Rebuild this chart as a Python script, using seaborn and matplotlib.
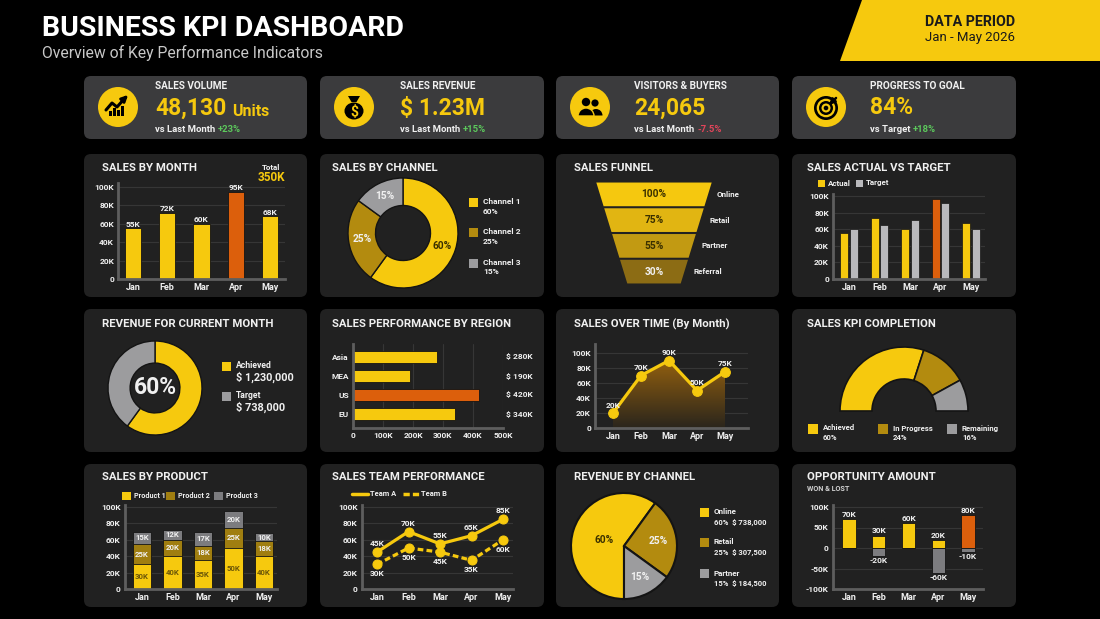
import numpy as np
import pandas as pd
import matplotlib
matplotlib.use("Agg")
import matplotlib.pyplot as plt
import seaborn as sns
from matplotlib.patches import FancyBboxPatch, Polygon, Circle, Rectangle, Wedge, Ellipse
from matplotlib.colors import LinearSegmentedColormap

# ------------------------------------------------------------------ data
months = ["Jan", "Feb", "Mar", "Apr", "May"]

kpi_titles = ["SALES VOLUME", "SALES REVENUE", "VISITORS & BUYERS", "PROGRESS TO GOAL"]
kpi_values = ["48,130", "$ 1.23M", "24,065", "84%"]
kpi_units = ["Units", "", "", ""]
kpi_compare = ["vs Last Month", "vs Last Month", "vs Last Month", "vs Target"]
kpi_delta = ["+23%", "+15%", "-7.5%", "+18%"]

sales_by_month = [55, 72, 60, 95, 68]

channel_names = ["Channel 1", "Channel 2", "Channel 3"]
channel_share = [60, 25, 15]

funnel_stages = ["Online", "Retail", "Partner", "Referral"]
funnel_pct = [100, 75, 55, 30]

actual_sales = [55, 74, 60, 96, 68]
target_sales = [60, 65, 71, 91, 60]

revenue_labels = ["Achieved", "Target"]
revenue_parts = [60, 40]
revenue_amounts = ["$ 1,230,000", "$ 738,000"]

regions = ["Asia", "MEA", "US", "EU"]
region_sales = [280, 190, 420, 340]

sales_over_time = [20, 70, 90, 50, 75]

kpi_comp_labels = ["Achieved", "In Progress", "Remaining"]
kpi_comp_share = [60, 24, 16]

product_names = ["Product 1", "Product 2", "Product 3"]
product1 = [30, 40, 35, 50, 40]
product2 = [25, 20, 18, 25, 18]
product3 = [15, 12, 17, 20, 10]

team_names = ["Team A", "Team B"]
team_a = [45, 70, 55, 65, 85]
team_b = [30, 50, 45, 35, 60]

rev_channels = ["Online", "Retail", "Partner"]
rev_share = [60, 25, 15]
rev_amounts = ["$ 738,000", "$ 307,500", "$ 184,500"]

opp_won = [70, 30, 60, 20, 80]
opp_lost = [0, -20, 0, -60, -10]

# ------------------------------------------------------------------ style
YEL = "#F6C90E"
GOLD = "#B38B0F"
GOLD2 = "#A07E10"
GRAY = "#9C9C9E"
LGRAY = "#B9B9BC"
DGRAY = "#7C7C7F"
ORANGE = "#DC5F0C"
PANEL = "#212121"
CARD = "#3B3B3D"
GRID = "#363636"
SPINE = "#5E5E5E"
WHITE = "#F0F0F0"
DARKTXT = "#3A3000"
EDGE = "#141414"
GREEN = "#5CC85C"
RED = "#E0455A"

sns.set_theme(style="dark", rc={"axes.facecolor": "none", "figure.facecolor": "black",
                                "text.color": WHITE, "xtick.color": WHITE, "ytick.color": WHITE,
                                "axes.edgecolor": SPINE})
plt.rcParams["font.family"] = ["Roboto", "DejaVu Sans"]

W, H = 1100, 619
fig = plt.figure(figsize=(W / 100, H / 100), dpi=100, facecolor="black")
bg = fig.add_axes([0, 0, 1, 1])
bg.set_xlim(0, W)
bg.set_ylim(H, 0)
bg.axis("off")


def px_rect(x0, y0, x1, y1):
    return [x0 / W, 1 - y1 / H, (x1 - x0) / W, (y1 - y0) / H]


def map_axes(xlim, ylim, xmap, ymap):
    d0, p0, d1, p1 = xmap
    sx = (p1 - p0) / (d1 - d0)
    xl = p0 + (xlim[0] - d0) * sx
    xr = p0 + (xlim[1] - d0) * sx
    e0, q0, e1, q1 = ymap
    sy = (q1 - q0) / (e1 - e0)
    yb = q0 + (ylim[0] - e0) * sy
    yt = q0 + (ylim[1] - e0) * sy
    ax = fig.add_axes(px_rect(xl, yt, xr, yb))
    ax.set_facecolor("none")
    return ax


def pie_axes(cx, cy, r):
    ax = fig.add_axes(px_rect(cx - r, cy - r, cx + r, cy + r))
    ax.set_facecolor("none")
    return ax


def finish_pie(ax):
    ax.set_xlim(-1, 1)
    ax.set_ylim(-1, 1)
    ax.set_aspect("equal")
    ax.axis("off")


def style(ax, grid="y"):
    sns.despine(ax=ax)
    for s in ("left", "bottom"):
        ax.spines[s].set_color(SPINE)
        ax.spines[s].set_linewidth(2.0)
    ax.tick_params(length=0, pad=3)
    ax.grid(False)
    if grid:
        ax.grid(axis=grid, color=GRID, linewidth=0.8)
    ax.set_axisbelow(True)
    ax.set_xlabel("")
    ax.set_ylabel("")


def txt(x, y, s, size=7, color=WHITE, weight="bold", ha="left", va="center", **kw):
    return bg.text(x, y, s, fontsize=size, color=color, fontweight=weight, ha=ha, va=va, **kw)


def rbox(x0, y0, x1, y1, color, r=7):
    bg.add_patch(FancyBboxPatch((x0, y0), x1 - x0, y1 - y0,
                                boxstyle=f"round,pad=0,rounding_size={r}", fc=color, ec="none"))


def square(x, y, color, s=9):
    bg.add_patch(Rectangle((x - s / 2, y - s / 2), s, s, fc=color, ec="none"))


def klabels(vals):
    return ["0" if v == 0 else f"{v}K" for v in vals]


TICK = dict(fontsize=6.0, fontweight="bold", color=WHITE)
MON = dict(fontsize=6.5, fontweight="bold", color=WHITE)
LAB = 6.0

# ------------------------------------------------------------------ header
txt(42, 29, "BUSINESS KPI DASHBOARD", size=20.5, color="white")
txt(42, 53, "Overview of Key Performance Indicators", size=11.3, color="#C8C8C8", weight="normal")
bg.add_patch(Polygon([(862, 0), (1100, 0), (1100, 61), (840, 61)], closed=True, fc=YEL, ec="none"))
txt(970, 22, "DATA PERIOD", size=10.3, color="#1A1A1A", ha="center")
txt(970, 38, "Jan - May 2026", size=9.5, color="#1A1A1A", ha="center", weight="normal")

cols = [(84, 307), (320, 544), (556, 779), (792, 1016)]
rows = [(154, 297), (309, 452), (464, 607)]
for (x0, x1) in cols:
    rbox(x0, 76, x1, 139, CARD)
    for (y0, y1) in rows:
        rbox(x0, y0, x1, y1, PANEL)

titles = [["SALES BY MONTH", "SALES BY CHANNEL", "SALES FUNNEL", "SALES ACTUAL VS TARGET"],
          ["REVENUE FOR CURRENT MONTH", "SALES PERFORMANCE BY REGION", "SALES OVER TIME (By Month)", "SALES KPI COMPLETION"],
          ["SALES BY PRODUCT", "SALES TEAM PERFORMANCE", "REVENUE BY CHANNEL", "OPPORTUNITY AMOUNT"]]
title_x = [102, 332, 574, 807]
title_y = [168, 324, 477]
for r in range(3):
    for c in range(4):
        txt(title_x[c], title_y[r], titles[r][c], size=8.2)
txt(807, 489, "WON & LOST", size=5.2, color="#D0D0D0")

# ------------------------------------------------------------------ KPI cards
icon_cx = [118, 354, 590, 826]
text_x = [155, 400, 634, 870]
for i in range(4):
    cx, cy = icon_cx[i], 107
    bg.add_patch(Circle((cx, cy), 20, fc=YEL, ec="none"))
    txt(text_x[i], 86, kpi_titles[i], size=7.2)
    v = txt(text_x[i], 108, kpi_values[i], size=16.5, color=YEL)
    if kpi_units[i]:
        bg.annotate(kpi_units[i], xy=(1, 0), xycoords=v, xytext=(4, 0), textcoords="offset points",
                    va="bottom", ha="left", fontsize=11.5, color=YEL, fontweight="bold")
    c = txt(text_x[i], 129, kpi_compare[i], size=6.8)
    bg.annotate(kpi_delta[i], xy=(1, 0.5), xycoords=c, xytext=(2, 0), textcoords="offset points",
                va="center", ha="left", fontsize=6.8, fontweight="bold",
                color=GREEN if kpi_delta[i].startswith("+") else RED)

# icon 1: growth chart
cx = icon_cx[0]
for dx, h in [(-9, 5), (-5, 8), (-1, 6), (3, 10)]:
    bg.add_patch(Rectangle((cx + dx, 107 + 9 - h), 3, h, fc="black", ec="none"))
bg.plot([cx - 12, cx - 6, cx - 1, cx + 7], [110, 103, 107, 98], color="black", lw=2.2, solid_capstyle="round")
bg.annotate("", xy=(cx + 12, 93), xytext=(cx + 5, 100),
            arrowprops=dict(arrowstyle="-|>", color="black", lw=2, mutation_scale=9))
# icon 2: money bag
cx = icon_cx[1]
bg.add_patch(Ellipse((cx, 111), 19, 17, fc="black", ec="none"))
bg.add_patch(Polygon([(cx - 6, 96), (cx + 6, 96), (cx + 2.5, 102), (cx - 2.5, 102)], fc="black", ec="none"))
txt(cx, 111.5, "$", size=10, color=YEL, ha="center")
# icon 3: people
cx = icon_cx[2]
bg.add_patch(Circle((cx - 4, 102), 4.2, fc="black", ec="none"))
bg.add_patch(Circle((cx + 5, 103), 3.6, fc="black", ec="none"))
bg.add_patch(Wedge((cx + 6, 115.5), 6.5, 180, 360, fc="black", ec="none"))
bg.add_patch(Wedge((cx - 4, 116), 8, 180, 360, fc="black", ec=YEL, lw=1))
# icon 4: target
cx = icon_cx[3]
for rr, col in [(12, "black"), (9.3, YEL), (7, "black"), (4.5, YEL), (2.3, "black")]:
    bg.add_patch(Circle((cx, 108), rr, fc=col, ec="none"))
bg.annotate("", xy=(cx + 1, 107), xytext=(cx + 12, 96),
            arrowprops=dict(arrowstyle="-|>", color="black", lw=1.8, mutation_scale=8))

# ------------------------------------------------------------------ Sales by month
ax = map_axes((-0.43, 4.43), (0, 104), (0, 133, 4, 270), (0, 279, 100, 187))
df = pd.DataFrame({"month": months, "sales": sales_by_month})
peak = int(np.argmax(sales_by_month))
pal = [ORANGE if i == peak else YEL for i in range(len(months))]
sns.barplot(data=df, x="month", y="sales", hue="month", palette=pal, legend=False, width=0.47,
            saturation=1, edgecolor=EDGE, linewidth=0.6, ax=ax)
style(ax)
ax.set_xlim(-0.43, 4.43)
ax.set_ylim(0, 104)
yt = [0, 20, 40, 60, 80, 100]
ax.set_yticks(yt, klabels(yt), **TICK)
ax.set_xticks(range(len(months)), months, **MON)
for i, v in enumerate(sales_by_month):
    ax.text(i, v + 0.8, f"{v}K", ha="center", va="bottom", fontsize=LAB, fontweight="bold", color=WHITE)
txt(271, 167.5, "Total", size=5.8, ha="center")
txt(271, 177.5, f"{sum(sales_by_month)}K", size=8.5, color=YEL, ha="center")

# ------------------------------------------------------------------ Sales by channel (donut)
ax = pie_axes(403, 233, 55)
wedges, _, autot = ax.pie(channel_share, colors=[YEL, GOLD, GRAY], startangle=90, counterclock=False,
                          wedgeprops=dict(width=0.5, edgecolor=EDGE, linewidth=1),
                          autopct=lambda p: f"{p:.0f}%", pctdistance=0.75,
                          textprops=dict(fontsize=7.3, fontweight="bold", color=WHITE))
autot[0].set_color(DARKTXT)
finish_pie(ax)
for i, (name, share, col) in enumerate(zip(channel_names, channel_share, [YEL, GOLD, GRAY])):
    y = 201.5 + 30.5 * i
    square(473, y + 0.5, col)
    txt(483, y, name, size=LAB)
    txt(483, y + 9.5, f"{share}%", size=LAB)

# ------------------------------------------------------------------ Sales funnel
ax = map_axes((-64, 66), (4.136, -0.058), (0, 654, 1, 655), (0, 181.5, 1, 207.25))
ax.axis("off")
funnel_cols = ["#F5C80F", "#E1B512", "#C29A12", "#8C6C14"]
hw = lambda yy: 58 - 7.9 * yy
for i, (name, pct) in enumerate(zip(funnel_stages, funnel_pct)):
    t, b = i + 0.04, i + 0.96
    ax.fill([-hw(t), hw(t), hw(b), -hw(b)], [t, t, b, b], color=funnel_cols[i], lw=0)
    ax.text(0, i + 0.5, f"{pct}%", ha="center", va="center", fontsize=7.3, fontweight="bold",
            color=WHITE if i == len(funnel_pct) - 1 else DARKTXT)
    ax.text(hw(i + 0.5) + 9, i + 0.5, name, ha="left", va="center", fontsize=5.8, fontweight="bold", color=WHITE)
ax.set_xlim(-64, 66)
ax.set_ylim(4.136, -0.058)

# ------------------------------------------------------------------ Sales actual vs target
ax = map_axes((-0.52, 4.46), (0, 102), (0, 849, 4, 971), (0, 279, 100, 196))
df2 = pd.DataFrame({"month": months * 2,
                    "series": ["Actual"] * len(months) + ["Target"] * len(months),
                    "value": actual_sales + target_sales})
sns.barplot(data=df2, x="month", y="value", hue="series", palette=[YEL, LGRAY], width=0.62, gap=0.18,
            saturation=1, legend=False, edgecolor=EDGE, linewidth=0.5, ax=ax)
ax.containers[0][int(np.argmax(actual_sales))].set_facecolor(ORANGE)
style(ax)
ax.set_xlim(-0.52, 4.46)
ax.set_ylim(0, 102)
ax.set_yticks(yt, klabels(yt), **TICK)
ax.set_xticks(range(len(months)), months, **MON)
square(821, 183, YEL, 7)
txt(828, 183, "Actual", size=5.8)
square(859, 183, LGRAY, 7)
txt(866, 183, "Target", size=5.8)

# ------------------------------------------------------------------ Revenue for current month
ax = pie_axes(155, 388, 47)
ax.pie(revenue_parts, colors=[YEL, GRAY], startangle=90, counterclock=False,
       wedgeprops=dict(width=0.47, edgecolor=EDGE, linewidth=1))
ax.text(0, 0, f"{revenue_parts[0]}%", ha="center", va="center", fontsize=16.5, fontweight="bold", color=WHITE)
finish_pie(ax)
for i, (lab, amt, col) in enumerate(zip(revenue_labels, revenue_amounts, [YEL, GRAY])):
    y = 366 + 30 * i
    square(226.5, y, col)
    txt(236, y, lab, size=6.2)
    txt(236, y + 11.5, amt, size=7.8)

# ------------------------------------------------------------------ Sales performance by region
ax = map_axes((0, 500), (3.74, -0.68), (0, 353, 500, 503), (0, 357, 3, 414))
df3 = pd.DataFrame({"region": regions, "sales": region_sales})
peak = int(np.argmax(region_sales))
pal = [ORANGE if i == peak else YEL for i in range(len(regions))]
sns.barplot(data=df3, x="sales", y="region", hue="region", palette=pal, legend=False, orient="h",
            width=0.63, saturation=1, edgecolor=EDGE, linewidth=0.6, ax=ax)
style(ax, grid="x")
ax.set_xlim(0, 500)
ax.set_ylim(3.74, -0.68)
xt = [0, 100, 200, 300, 400, 500]
ax.set_xticks(xt, klabels(xt), **TICK)
ax.set_yticks(range(len(regions)), regions, **TICK)
for i, v in enumerate(region_sales):
    ax.text(555, i, f"$ {v}K", ha="center", va="center", fontsize=LAB, fontweight="bold", color=WHITE)

# ------------------------------------------------------------------ Sales over time
ax = map_axes((-0.64, 4.82), (0, 112), (0, 613, 4, 725), (0, 428, 100, 353))
xs = np.arange(len(months))
ys = np.array(sales_over_time)
verts = np.vstack([np.column_stack([xs, ys]), [[xs[-1], 0], [xs[0], 0]]])
clip = Polygon(verts, closed=True, transform=ax.transData, fc="none", ec="none")
ax.add_patch(clip)
grad = np.linspace(0, 1, 256).reshape(-1, 1)
cmap = LinearSegmentedColormap.from_list("area", ["#2A251C", "#93600F"])
im = ax.imshow(grad, extent=[xs[0], xs[-1], 0, ys.max()], origin="lower", cmap=cmap, aspect="auto", zorder=1)
im.set_clip_path(clip)
sns.lineplot(x=xs, y=ys, color=YEL, linewidth=2.3, marker="o", markersize=7, markeredgecolor=YEL,
             ax=ax, zorder=3)
style(ax)
ax.set_xlim(-0.64, 4.82)
ax.set_ylim(0, 112)
ax.set_yticks(yt, klabels(yt), **TICK)
ax.set_xticks(range(len(months)), months, **MON)
for i, v in enumerate(sales_over_time):
    ax.text(i, v + 6, f"{v}K", ha="center", va="bottom", fontsize=LAB, fontweight="bold", color=WHITE)

# ------------------------------------------------------------------ Sales KPI completion
ax = pie_axes(904, 411, 64)
wedges, _ = ax.pie(kpi_comp_share + [sum(kpi_comp_share)], colors=[YEL, GOLD, GRAY, "none"],
                   startangle=180, counterclock=False,
                   wedgeprops=dict(width=0.5, edgecolor=EDGE, linewidth=1.2))
wedges[-1].set_visible(False)
finish_pie(ax)
for i, (lab, share, col) in enumerate(zip(kpi_comp_labels, kpi_comp_share, [YEL, GOLD, GRAY])):
    x = [813, 883, 952][i]
    square(x, 429, col, 10)
    txt(x + 10, 428, lab, size=5.6)
    txt(x + 10, 438, f"{share}%", size=5.6)

# ------------------------------------------------------------------ Sales by product (stacked)
ax = map_axes((-0.56, 4.43), (0, 102), (0, 142, 4, 264), (0, 589, 100, 507))
layers = [product1, product2, product3]
layer_cols = [YEL, GOLD2, DGRAY]
cum = np.cumsum(layers, axis=0)
for k in reversed(range(len(layers))):
    sns.barplot(x=months, y=cum[k], color=layer_cols[k], width=0.6, saturation=1,
                edgecolor=EDGE, linewidth=0.6, ax=ax)
style(ax)
ax.set_xlim(-0.56, 4.43)
ax.set_ylim(0, 102)
ax.set_yticks(yt, klabels(yt), **TICK)
ax.set_xticks(range(len(months)), months, **MON)
for k in range(len(layers)):
    for i in range(len(months)):
        mid = cum[k][i] - layers[k][i] / 2
        ax.text(i, mid, f"{layers[k][i]}K", ha="center", va="center", fontsize=5.6, fontweight="bold",
                color="#6B5608" if k == 0 else WHITE)
for name, col, sx in zip(product_names, layer_cols, [126.5, 170.5, 218.5]):
    square(sx, 496, col, 8.5)
    txt(sx + 8, 496, name, size=5.2)

# ------------------------------------------------------------------ Sales team performance
ax = map_axes((-0.48, 4.32), (0, 102), (0, 377, 4, 503), (0, 589, 100, 507))
sns.lineplot(x=xs, y=team_a, color=YEL, linewidth=2.3, marker="o", markersize=6.5, markeredgecolor=YEL, ax=ax)
sns.lineplot(x=xs, y=team_b, color=YEL, linewidth=2.3, linestyle=(0, (1.8, 1.0)), marker="o", markersize=6.5,
             markeredgecolor=YEL, ax=ax)
style(ax)
ax.set_xlim(-0.48, 4.32)
ax.set_ylim(0, 102)
ax.set_yticks(yt, klabels(yt), **TICK)
ax.set_xticks(range(len(months)), months, **MON)
for i, v in enumerate(team_a):
    ax.text(i, v + 6, f"{v}K", ha="center", va="bottom", fontsize=LAB, fontweight="bold", color=WHITE)
for i, v in enumerate(team_b):
    ax.text(i, v - 7, f"{v}K", ha="center", va="top", fontsize=LAB, fontweight="bold", color=WHITE)
bg.plot([352, 368], [494, 494], color=YEL, lw=2.5)
txt(370, 494, team_names[0], size=5.4)
bg.plot([403, 420], [494, 494], color=YEL, lw=2.5, linestyle=(0, (1.8, 0.9)))
txt(421, 494, team_names[1], size=5.4)

# ------------------------------------------------------------------ Revenue by channel (pie)
ax = pie_axes(624, 546, 53)
wedges, _, autot = ax.pie(rev_share, colors=[YEL, GOLD, GRAY], startangle=-90, counterclock=False,
                          wedgeprops=dict(edgecolor=EDGE, linewidth=1.5),
                          autopct=lambda p: f"{p:.0f}%", pctdistance=0.65,
                          textprops=dict(fontsize=7.3, fontweight="bold", color=WHITE))
px, py = autot[0].get_position()
autot[0].set_position((px * 0.6, py * 0.6))
autot[0].set_color(DARKTXT)
finish_pie(ax)
for i, (name, share, amt, col) in enumerate(zip(rev_channels, rev_share, rev_amounts, [YEL, GOLD, GRAY])):
    y = [512, 542, 573][i]
    square(704, y + 0.5, col)
    txt(714, y, name, size=5.8)
    txt(714, y + 10, f"{share}%  {amt}", size=5.5)

# ------------------------------------------------------------------ Opportunity amount
ax = map_axes((-0.54, 4.5), (-100, 105), (0, 849, 4, 968), (0, 548, 100, 507))
peak = int(np.argmax(opp_won))
pal = [ORANGE if i == peak else YEL for i in range(len(months))]
sns.barplot(x=months, y=opp_won, hue=months, palette=pal, legend=False, width=0.45, saturation=1,
            edgecolor=EDGE, linewidth=0.6, ax=ax)
sns.barplot(x=months, y=opp_lost, color=DGRAY, width=0.45, saturation=1, edgecolor=EDGE, linewidth=0.6, ax=ax)
style(ax)
ax.set_xlim(-0.54, 4.5)
ax.set_ylim(-100, 105)
ot = [-100, -50, 0, 50, 100]
ax.set_yticks(ot, klabels(ot), **TICK)
ax.set_xticks(range(len(months)), months, **MON)
for i, (w, l) in enumerate(zip(opp_won, opp_lost)):
    ax.text(i, w + 3, f"{w}K", ha="center", va="bottom", fontsize=LAB, fontweight="bold", color=WHITE)
    if l < 0:
        ax.text(i, l - 3, f"{l}K", ha="center", va="top", fontsize=LAB, fontweight="bold", color=WHITE)

fig.savefig("out.png", dpi=100, facecolor="black")
